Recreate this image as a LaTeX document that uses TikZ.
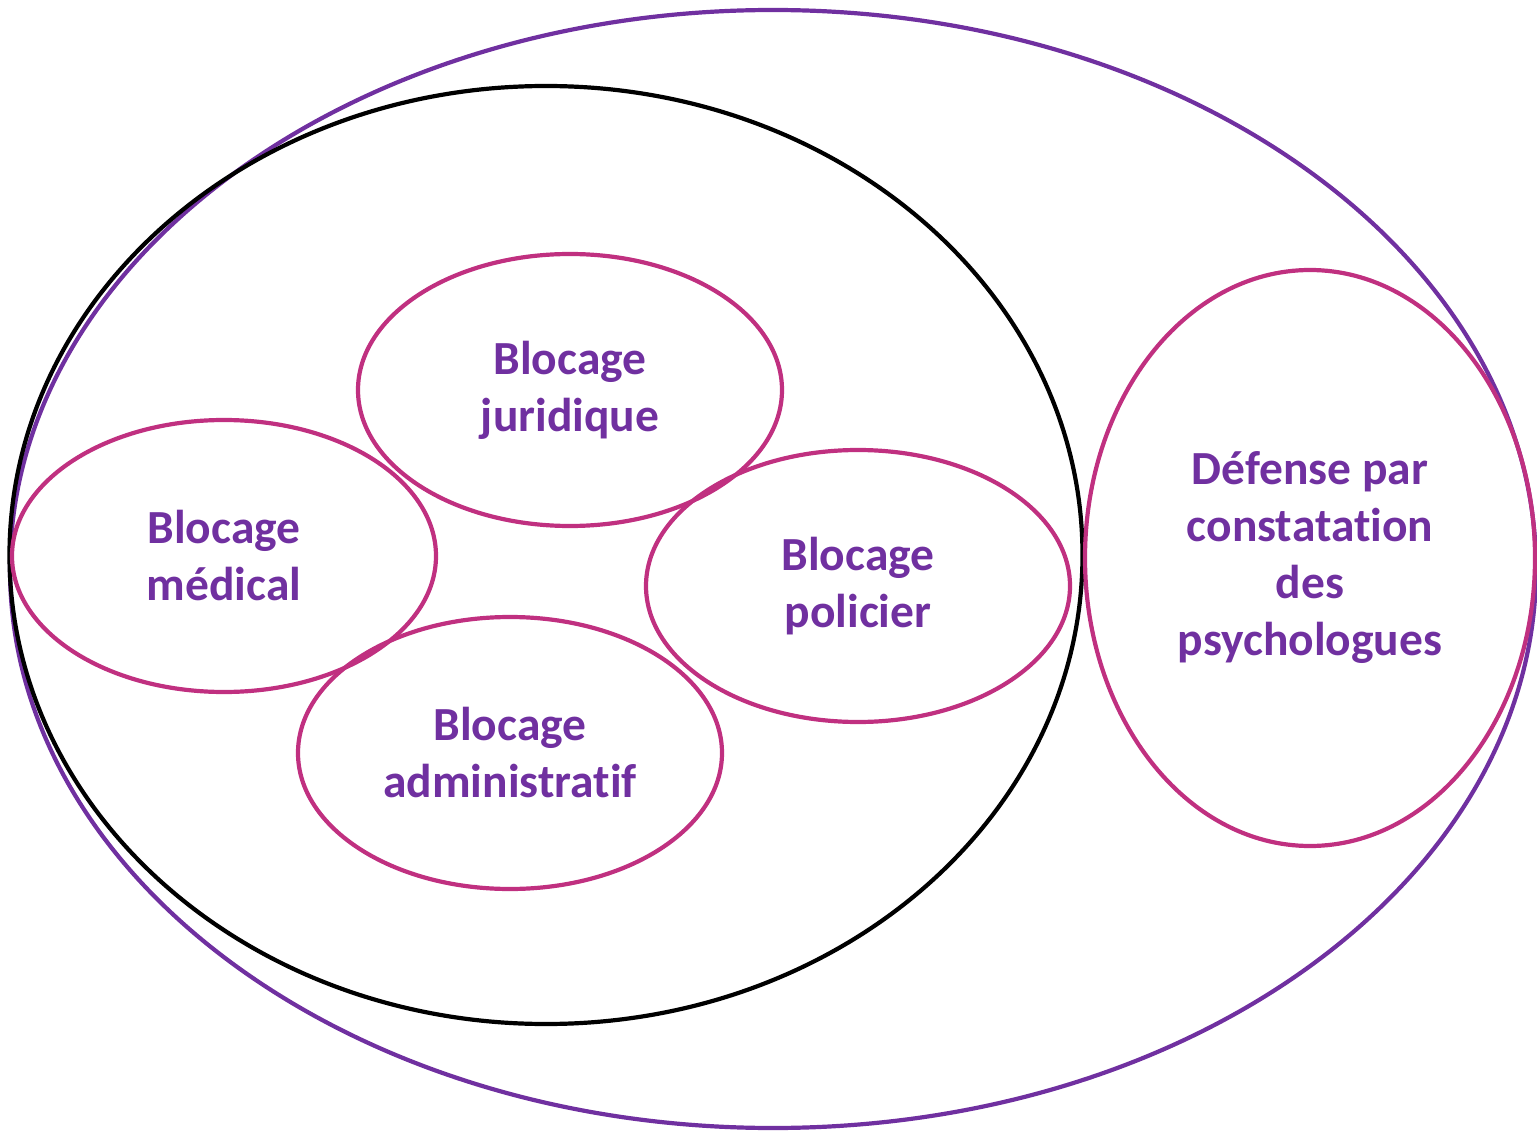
\documentclass[tikz,border=0pt]{standalone}
\usepackage{fontspec}
\setmainfont[Ligatures=NoCommon]{Carlito}
\usetikzlibrary{shapes.geometric}
\definecolor{txtpurple}{RGB}{112,48,160}
\definecolor{outerpurple}{RGB}{112,48,160}
\definecolor{blobpink}{RGB}{192,48,128}
\tikzset{
  blob/.style={ellipse, draw=blobpink, line width=4.2pt, inner sep=0pt,
    text=txtpurple, align=center, font=\bfseries\fontsize{47.5}{57}\selectfont},
  big/.style={ellipse, line width=4.2pt, inner sep=0pt}
}
\begin{document}
\begin{tikzpicture}[x=1pt,y=-1pt]
\useasboundingbox (0,0) rectangle (1537,1131);
\node[big, draw=outerpurple, minimum width=1526pt, minimum height=1118pt] (outer) at (773,569) {};
\node[big, draw=black, minimum width=1073pt, minimum height=938pt] (inner) at (546,555) {};
\node[blob, minimum width=424pt, minimum height=272pt] (jur) at (570,390) {Blocage\\juridique};
\node[blob, minimum width=424pt, minimum height=272pt] (med) at (224,556) {Blocage\\médical};
\node[blob, minimum width=424pt, minimum height=272pt] (pol) at (858,586) {Blocage\\policier};
\node[blob, minimum width=424pt, minimum height=272pt] (adm) at (510,753) {Blocage\\administratif};
\node[blob, minimum width=450pt, minimum height=576pt] (def) at (1310,558) {Défense par\\constatation\\des\\psychologues};
\end{tikzpicture}
\end{document}
